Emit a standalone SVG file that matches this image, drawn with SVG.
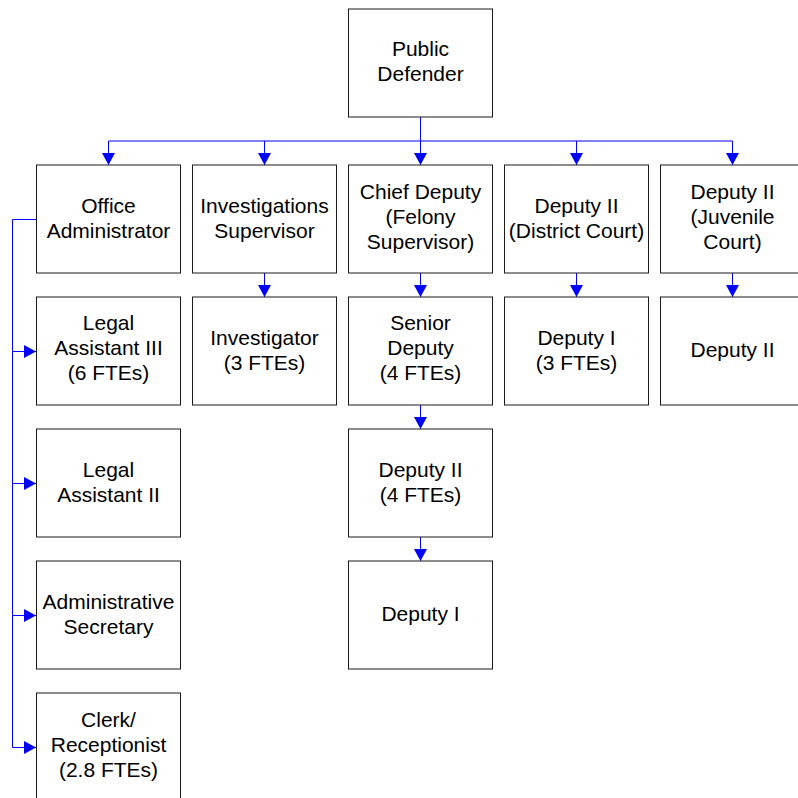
<svg xmlns="http://www.w3.org/2000/svg" width="798" height="798" viewBox="0 0 798 798">
<style>
.box{fill:#ffffff;stroke:#1a1a1a;stroke-width:1}
.t{font-family:"Liberation Sans",Arial,sans-serif;font-size:21px;fill:#000;text-anchor:middle}
.c{fill:none;stroke:#0000ff;stroke-width:1}
</style>
<defs>
<marker id="ah" markerUnits="userSpaceOnUse" markerWidth="13" markerHeight="13" refX="12" refY="6.5" orient="auto">
<path d="M0,0 L12,6.5 L0,13 z" fill="#0000ff"/>
</marker>
</defs>
<rect width="798" height="798" fill="#ffffff"/>
<g id="connectors">
<path class="c" d="M420.5,116.5 V141 M108.5,141 H732.5"/>
<path class="c" d="M108.5,141 V165" marker-end="url(#ah)"/>
<path class="c" d="M264.5,141 V165" marker-end="url(#ah)"/>
<path class="c" d="M420.5,141 V165" marker-end="url(#ah)"/>
<path class="c" d="M576.5,141 V165" marker-end="url(#ah)"/>
<path class="c" d="M732.5,141 V165" marker-end="url(#ah)"/>
<path class="c" d="M264.5,273 V297" marker-end="url(#ah)"/>
<path class="c" d="M420.5,273 V297" marker-end="url(#ah)"/>
<path class="c" d="M420.5,405 V429" marker-end="url(#ah)"/>
<path class="c" d="M420.5,537 V561" marker-end="url(#ah)"/>
<path class="c" d="M576.5,273 V297" marker-end="url(#ah)"/>
<path class="c" d="M732.5,273 V297" marker-end="url(#ah)"/>
<path class="c" d="M36,219.5 H12.5 V747.5"/>
<path class="c" d="M12.5,351.5 H36" marker-end="url(#ah)"/>
<path class="c" d="M12.5,483.5 H36" marker-end="url(#ah)"/>
<path class="c" d="M12.5,615.5 H36" marker-end="url(#ah)"/>
<path class="c" d="M12.5,747.5 H36" marker-end="url(#ah)"/>
</g>
<g id="public-defender"><rect class="box" x="348.5" y="9" width="144" height="108"/><text class="t" x="420.5" y="56">Public</text><text class="t" x="420.5" y="81">Defender</text></g>
<g id="office-administrator"><rect class="box" x="36.5" y="165" width="144" height="108"/><text class="t" x="108.5" y="212.5">Office</text><text class="t" x="108.5" y="237.5">Administrator</text></g>
<g id="investigations-supervisor"><rect class="box" x="192.5" y="165" width="144" height="108"/><text class="t" x="264.5" y="212.5">Investigations</text><text class="t" x="264.5" y="237.5">Supervisor</text></g>
<g id="chief-deputy"><rect class="box" x="348.5" y="165" width="144" height="108"/><text class="t" x="420.5" y="199">Chief Deputy</text><text class="t" x="420.5" y="224">(Felony</text><text class="t" x="420.5" y="249">Supervisor)</text></g>
<g id="deputy-ii-district"><rect class="box" x="504.5" y="165" width="144" height="108"/><text class="t" x="576.5" y="212.5">Deputy II</text><text class="t" x="576.5" y="237.5">(District Court)</text></g>
<g id="deputy-ii-juvenile"><rect class="box" x="660.5" y="165" width="144" height="108"/><text class="t" x="732.5" y="199">Deputy II</text><text class="t" x="732.5" y="224">(Juvenile</text><text class="t" x="732.5" y="249">Court)</text></g>
<g id="legal-assistant-iii"><rect class="box" x="36.5" y="297" width="144" height="108"/><text class="t" x="108.5" y="330">Legal</text><text class="t" x="108.5" y="355">Assistant III</text><text class="t" x="108.5" y="380">(6 FTEs)</text></g>
<g id="investigator"><rect class="box" x="192.5" y="297" width="144" height="108"/><text class="t" x="264.5" y="344.5">Investigator</text><text class="t" x="264.5" y="369.5">(3 FTEs)</text></g>
<g id="senior-deputy"><rect class="box" x="348.5" y="297" width="144" height="108"/><text class="t" x="420.5" y="330">Senior</text><text class="t" x="420.5" y="355">Deputy</text><text class="t" x="420.5" y="380">(4 FTEs)</text></g>
<g id="deputy-i-district"><rect class="box" x="504.5" y="297" width="144" height="108"/><text class="t" x="576.5" y="344.5">Deputy I</text><text class="t" x="576.5" y="369.5">(3 FTEs)</text></g>
<g id="deputy-ii-juvenile-2"><rect class="box" x="660.5" y="297" width="144" height="108"/><text class="t" x="732.5" y="357">Deputy II</text></g>
<g id="legal-assistant-ii"><rect class="box" x="36.5" y="429" width="144" height="108"/><text class="t" x="108.5" y="476.5">Legal</text><text class="t" x="108.5" y="501.5">Assistant II</text></g>
<g id="deputy-ii-felony"><rect class="box" x="348.5" y="429" width="144" height="108"/><text class="t" x="420.5" y="476.5">Deputy II</text><text class="t" x="420.5" y="501.5">(4 FTEs)</text></g>
<g id="administrative-secretary"><rect class="box" x="36.5" y="561" width="144" height="108"/><text class="t" x="108.5" y="608.5">Administrative</text><text class="t" x="108.5" y="633.5">Secretary</text></g>
<g id="deputy-i-felony"><rect class="box" x="348.5" y="561" width="144" height="108"/><text class="t" x="420.5" y="621">Deputy I</text></g>
<g id="clerk-receptionist"><rect class="box" x="36.5" y="693" width="144" height="108"/><text class="t" x="108.5" y="727">Clerk/</text><text class="t" x="108.5" y="752">Receptionist</text><text class="t" x="108.5" y="777">(2.8 FTEs)</text></g>
</svg>
